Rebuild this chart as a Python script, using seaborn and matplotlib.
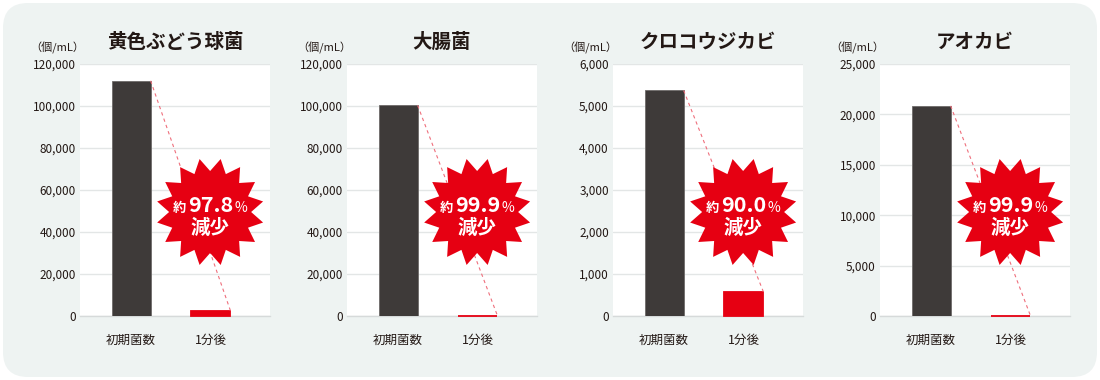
import numpy as np
import pandas as pd
import seaborn as sns
import matplotlib
matplotlib.use("Agg")
import matplotlib.pyplot as plt
from matplotlib import transforms
from matplotlib.patches import Polygon, FancyBboxPatch
from matplotlib.offsetbox import TextArea, HPacker, AnnotationBbox
from matplotlib.ticker import FuncFormatter, MultipleLocator

# ---- data ----
titles = ['黄色ぶどう球菌', '大腸菌', 'クロコウジカビ', 'アオカビ']
categories = ['初期菌数', '1分後']
initial_counts = [112000, 100300, 5370, 20850]
after_counts = [2460, 100, 570, 20]
reduction_pct = ['97.8', '99.9', '90.0', '99.9']
y_max = [120000, 120000, 6000, 25000]
y_step = [20000, 20000, 1000, 5000]
unit_label = '（個/mL）'

DARK = '#3e3a39'
RED = '#e60012'
BG = '#eef3f2'
TXT = '#231815'

sns.set_theme(style='white')
plt.rcParams['font.family'] = ['Noto Sans CJK JP', 'DejaVu Sans']

W, H = 1100, 380
fig = plt.figure(figsize=(W / 100, H / 100), dpi=100)
fig.patch.set_facecolor('white')
bg = FancyBboxPatch((0.03, 0.03), W / 100 - 0.06, H / 100 - 0.06,
                    boxstyle='round,pad=0,rounding_size=0.25',
                    transform=fig.dpi_scale_trans, facecolor=BG,
                    edgecolor='none', zorder=-10)
fig.patches.append(bg)

lefts_px = [80, 347, 613, 880]
ax_w, ax_top, ax_bot = 190, 64, 316

# starburst vertices (inches, relative to centre)
n_spikes = 16
R_out, R_in = 0.54, 0.41
ang = np.deg2rad(90 + 11.25) + np.arange(2 * n_spikes) * np.pi / n_spikes
rad = np.where(np.arange(2 * n_spikes) % 2 == 0, R_out, R_in)
star_xy = np.column_stack([rad * np.cos(ang), rad * np.sin(ang)])

for i in range(4):
    l = lefts_px[i]
    ax = fig.add_axes([l / W, (H - ax_bot) / H, ax_w / W, (ax_bot - ax_top) / H])
    ax.set_zorder(1)
    ax.set_facecolor('white')
    df = pd.DataFrame({'cat': categories, 'val': [initial_counts[i], after_counts[i]]})
    sns.barplot(data=df, x='cat', y='val', hue='cat', palette=[DARK, RED],
                width=0.49, legend=False, ax=ax, saturation=1)
    ax.patches[0].set_edgecolor('#6e6a69')
    ax.patches[0].set_linewidth(0.6)
    ax.patches[1].set_edgecolor(RED)
    ax.patches[1].set_linewidth(1.3)
    ax.patches[1].set_clip_on(False)
    for p in ax.patches:
        p.set_zorder(3)

    ax.set_xlim(-0.64, 1.74)
    ax.set_ylim(0, y_max[i])
    ax.yaxis.set_major_locator(MultipleLocator(y_step[i]))
    ax.yaxis.set_major_formatter(FuncFormatter(lambda v, p: f'{int(v):,}'))
    ax.grid(axis='y', color='#e3e6e6', lw=1)
    ax.grid(axis='x', visible=False)
    ax.set_axisbelow(True)
    for s in ['top', 'left', 'right']:
        ax.spines[s].set_visible(False)
    ax.spines['bottom'].set_color('#d6dada')
    ax.spines['bottom'].set_linewidth(1)
    ax.spines['bottom'].set_zorder(1)
    ax.tick_params(axis='y', length=0, pad=3, labelsize=8.5, labelcolor=TXT)
    ax.tick_params(axis='x', length=0, pad=13, labelsize=9, labelcolor=TXT)
    ax.set_xlabel('')
    ax.set_ylabel('')

    # dashed connector
    p0, p1 = ax.patches[0], ax.patches[1]
    x0 = p0.get_x() + p0.get_width()
    x1 = p1.get_x() + p1.get_width()
    ax.plot([x0, x1], [p0.get_height(), p1.get_height()], ls=(0, (3, 3)),
            color='#ef6f7c', lw=0.8, zorder=3.5)

    # starburst
    blended = transforms.blended_transform_factory(ax.transData, ax.transAxes)
    cx = 0.99
    cy = (ax_bot - 212) / (ax_bot - ax_top)
    trans = fig.dpi_scale_trans + transforms.ScaledTranslation(cx, cy, blended)
    star = Polygon(star_xy, closed=True, facecolor=RED, edgecolor='none',
                   transform=trans, zorder=4, clip_on=False)
    ax.add_patch(star)

    tp_s = dict(color='white', fontsize=9.5, fontweight='bold')
    tp_b = dict(color='white', fontsize=15.5, fontweight='bold')
    box = HPacker(children=[TextArea('約', textprops=tp_s),
                            TextArea(reduction_pct[i], textprops=tp_b),
                            TextArea('%', textprops=dict(color='white', fontsize=10))],
                  align='baseline', pad=0, sep=1)
    ab = AnnotationBbox(box, (cx, (ax_bot - 205) / (ax_bot - ax_top)),
                        xycoords=blended, frameon=False, box_alignment=(0.5, 0.5),
                        zorder=5, annotation_clip=False)
    ax.add_artist(ab)
    ax.text(cx, (ax_bot - 228) / (ax_bot - ax_top), '減少', transform=blended,
            ha='center', va='center', color='white', fontsize=14,
            fontweight='bold', zorder=5)

    # unit label
    ax.text(0.02, 1.065, unit_label, transform=ax.transAxes, ha='right',
            va='center', fontsize=8, color=TXT)

    # title
    fig.text((l + ax_w / 2) / W, 1 - 42 / H, titles[i], ha='center',
             va='center', fontsize=14, fontweight='bold', color=TXT)

fig.savefig('out.png', dpi=100, facecolor='white')
